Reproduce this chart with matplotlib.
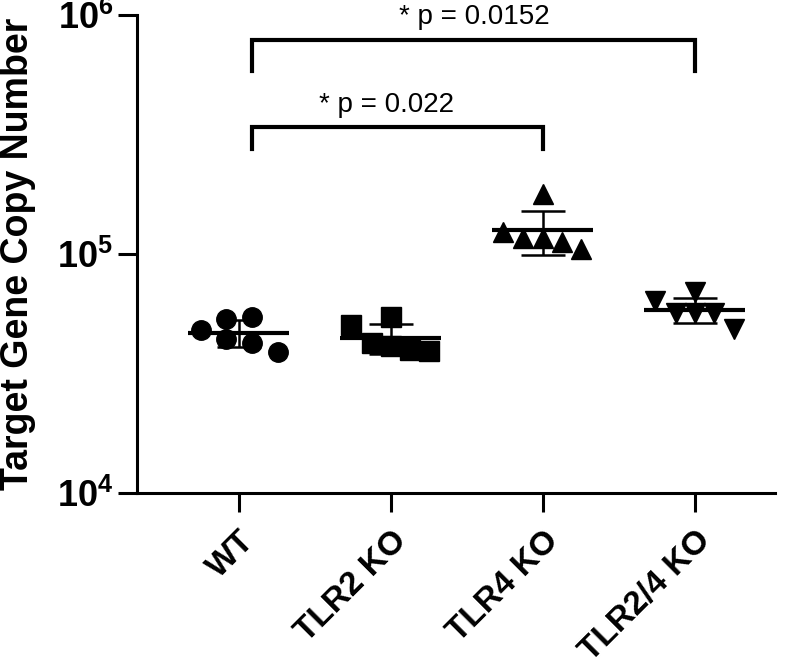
import matplotlib.pyplot as plt
import numpy as np

plt.rcParams['font.family'] = ['Liberation Sans', 'DejaVu Sans']
plt.rcParams['mathtext.fontset'] = 'custom'
plt.rcParams['mathtext.rm'] = 'Liberation Sans:bold'
plt.rcParams['mathtext.bf'] = 'Liberation Sans:bold'

groups = ['WT', 'TLR2 KO', 'TLR4 KO', 'TLR2/4 KO']
wt = [48100, 53500, 44100, 54500, 42400, 38900]
tlr2 = [50400, 42400, 54500, 41200, 39700, 39300]
tlr4 = [123600, 116700, 178000, 116700, 112200, 105000]
tlr24 = [63600, 56600, 69400, 56600, 56600, 48600]
series = [wt, tlr2, tlr4, tlr24]
markers = ['o', 's', '^', 'v']
# horizontal scatter offsets within each column
jitter = [[-0.25, -0.08, -0.08, 0.085, 0.085, 0.26],
          [-0.26, -0.125, 0, 0, 0.125, 0.25],
          [-0.26, -0.13, 0, 0, 0.125, 0.25],
          [-0.26, -0.12, 0, 0, 0.13, 0.26]]

fig = plt.figure(figsize=(8, 6.71), dpi=100)
ax = fig.add_axes([0.171, 0.265, 0.798, 0.713])

for i, vals in enumerate(series):
    vals = np.array(vals)
    xs = i + np.array(jitter[i])
    ax.plot(xs, vals, linestyle='none', marker=markers[i], color='black',
            markersize=14, zorder=3)
    m = vals.mean()
    sd = vals.std(ddof=1)
    ax.hlines(m, i - 0.33, i + 0.33, color='black', lw=3, zorder=4)
    ax.errorbar(i, m, yerr=sd, color='black', lw=1.8, capsize=16,
                capthick=1.8, zorder=4)

ax.set_yscale('log')
ax.set_ylim(1e4, 1e6)
ax.set_xlim(-0.67, 3.53)
ax.set_yticks([1e4, 1e5, 1e6])
ax.set_yticklabels([r'$\mathbf{10^{4}}$', r'$\mathbf{10^{5}}$', r'$\mathbf{10^{6}}$'])
ax.yaxis.set_minor_locator(plt.NullLocator())
ax.set_xticks(range(len(groups)))
ax.set_xticklabels(groups, rotation=45, ha='right', rotation_mode='anchor',
                   fontsize=24, fontweight='bold')
ax.tick_params(axis='y', labelsize=26, length=14, width=2.2, pad=3)
ax.tick_params(axis='x', length=14, width=2.2, pad=9)
ax.set_ylabel('Target Gene Copy Number', fontsize=27, fontweight='bold')
ax.yaxis.set_label_coords(-0.158, 0.5)

for s in ['top', 'right']:
    ax.spines[s].set_visible(False)
for s in ['left', 'bottom']:
    ax.spines[s].set_linewidth(2.2)

# significance brackets
def bracket(x0, x1, ytop, ybot, label, tx, ty):
    ax.plot([x0, x0, x1, x1], [ybot, ytop, ytop, ybot], color='black', lw=3,
            clip_on=False, solid_joinstyle='miter')
    ax.text(tx, ty, label, ha='center', va='center', fontsize=20)

bracket(0.085, 3.0, 7.85e5, 5.83e5, '* p = 0.0152', 1.55, 9.8e5)
bracket(0.085, 2.0, 3.4e5, 2.75e5, '* p = 0.022', 0.97, 4.2e5)

fig.savefig('out.png', dpi=100)
